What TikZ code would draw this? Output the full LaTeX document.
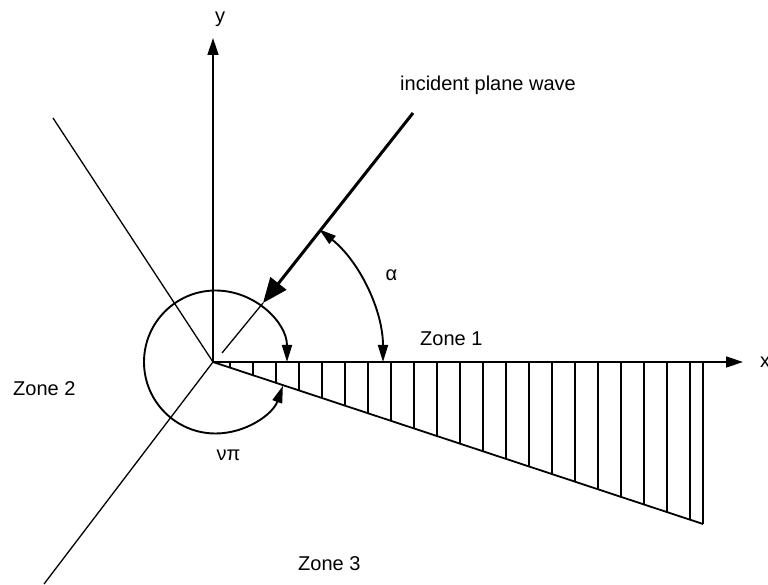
\documentclass[tikz,border=0pt]{standalone}
\usepackage{fontspec}
\setmainfont{Liberation Sans}
\usetikzlibrary{arrows.meta}
\begin{document}
\begin{tikzpicture}[x=1pt,y=1pt,
  font=\fontsize{20}{24}\selectfont,
  thinl/.style={line width=1.3pt},
  axis/.style={line width=1.4pt,-{Triangle[length=17pt,width=11pt]}},
  facel/.style={line width=1.8pt},
  hatchl/.style={line width=2.7pt},
  arcl/.style={line width=1.9pt,{Triangle[length=17pt,width=10pt]}-{Triangle[length=17pt,width=10pt]}},
  wave/.style={line width=3pt,-{Triangle[length=25pt,width=20pt]}},
  lbl/.style={inner sep=0pt,anchor=base west}]
\useasboundingbox (0,0) rectangle (768,584);
\coordinate (O) at (213,222);
\coordinate (C) at (215.5,222);
\coordinate (ytip) at (213,546);
\coordinate (xtip) at (743,222);
\coordinate (ul) at (53,466);
\coordinate (ll) at (44,0);
\coordinate (wTR) at (703,222);
\coordinate (wBR) at (703,60);
\coordinate (wavestart) at (413,471);
\coordinate (wavetip) at (263,281);
\coordinate (waveend) at (222,231);
% axes and zone boundaries
\draw[axis] (O) -- (ytip);
\draw[axis] (O) -- (xtip);
\draw[thinl] (O) -- (ul);
\draw[thinl] (O) -- (ll);
% wedge
\foreach \k in {0,...,20} {
  \pgfmathsetmacro\hx{230+23*\k}
  \pgfmathsetmacro\hy{222-(\hx-213)/490*162}
  \draw[hatchl] (\hx,222) -- (\hx,\hy);
}
\draw[facel] (O) -- (wBR);
\draw[thinl] (wBR) -- (wTR);
% incident wave
\draw[wave] (wavestart) -- (wavetip);
\draw[thinl] (wavetip) -- (waveend);
% angle arcs
\draw[arcl] ([shift={(0:71.5)}]C) arc[start angle=0,end angle=340.5,radius=71.5];
\draw[arcl] ([shift={(51.3:170)}]O) arc[start angle=51.3,end angle=0,radius=170];
% labels
\node[inner sep=0pt,anchor=base] (ylab) at (220,561) {y};
\node[lbl] (xlab) at (760,216) {x};
\node[lbl] (wavelab) at (400,493) {incident plane wave};
\node[inner sep=0pt,anchor=base] (alab) at (391.5,303) {α};
\node[lbl] (z1) at (420,238) {Zone 1};
\node[lbl] (z2) at (13,188) {Zone 2};
\node[lbl] (z3) at (298,14) {Zone 3};
\node[inner sep=0pt,anchor=base] (nupi) at (228.5,124) {νπ};
\end{tikzpicture}
\end{document}
